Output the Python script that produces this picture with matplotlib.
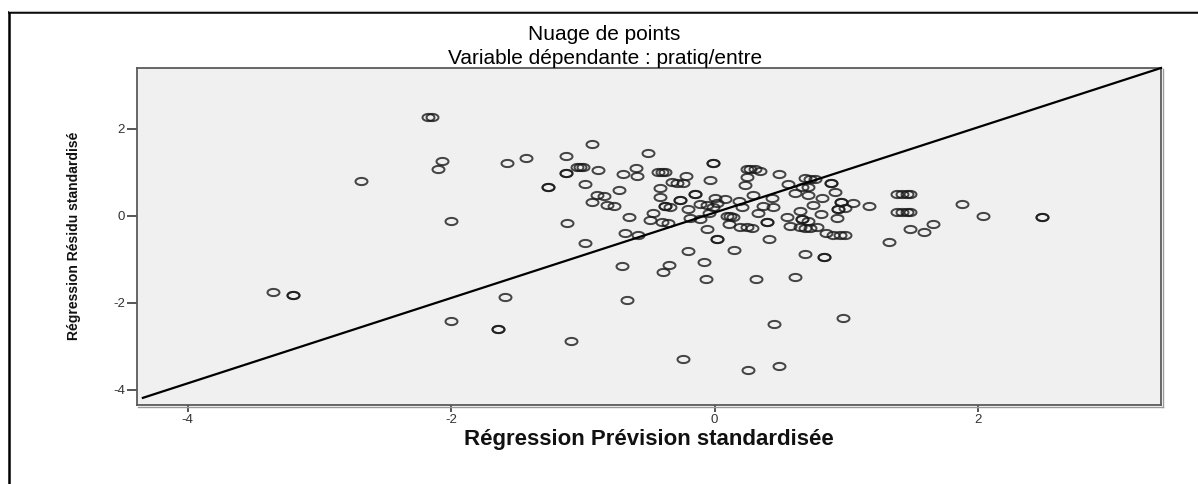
import numpy as np
import matplotlib
matplotlib.use("Agg")
import matplotlib.pyplot as plt
from matplotlib.path import Path
from matplotlib.lines import Line2D

# Standardized predicted values (x) and standardized residuals (y)
pred_std = [
    -2.175, -2.145, -2.067, -2.097, -1.573, -1.431, -2.684, -2.003,
    -3.355, -3.198, -3.198, -2.003, -1.641, -1.641, -1.591,
    -0.986, -0.680, -0.579, -1.090, -0.700, -0.662, -0.345, -0.391, -0.201, -0.077, -0.062, -0.241,
    0.021, 0.021, 0.146, 0.412, 0.315, 0.257, 0.490, 0.450, 0.614, 0.689, 0.834, 0.834, 0.978,
    0.845, 0.900, 0.950, 0.990,
    -1.128, -0.928, -0.503, -1.044, -1.021, -0.996, -1.128, -1.128, -0.885, -1.262, -1.262, -0.983,
    -0.692, -0.596, -0.591, -0.725, -0.894, -0.839, -0.932, -0.819, -0.761, -1.122,
    -0.647, -0.465, -0.490, -0.401, -0.351,
    -0.427, -0.401, -0.376, -0.414, -0.414, -0.325, -0.285, -0.237, -0.216,
    -0.376, -0.376, -0.338, -0.262, -0.262, -0.148, -0.148, -0.199,
    -0.110, -0.059, -0.009, 0.017, 0.004, 0.080, -0.186, -0.110, -0.039,
    0.093, 0.118, 0.143, -0.059, 0.112, 0.194, 0.244, 0.282,
    -0.014, -0.014, -0.034, 0.207, 0.186, 0.295, 0.232, 0.243,
    0.244, 0.270, 0.307, 0.345, 0.492, 0.333, 0.396, 0.396, 0.371, 0.442, 0.439,
    0.548, 0.573, 0.649, 0.687, 0.725, 0.776, 0.649, 0.662, 0.662, 0.712,
    0.750, 0.814, 0.708, 0.611, 0.560, 0.662, 0.712, 0.687, 0.725, 0.763,
    0.885, 0.885, 0.915, 0.958, 0.958, 0.940, 0.940, 0.991, 1.049, 1.175, 0.928, 0.806,
    1.383, 1.421, 1.459, 1.484, 1.383, 1.421, 1.459, 1.484,
    1.484, 1.591, 1.661, 1.325, 1.882, 2.041, 2.484, 2.484,
]
resid_std = [
    2.257, 2.257, 1.253, 1.069, 1.200, 1.315, 0.793, -0.126,
    -1.759, -1.834, -1.834, -2.418, -2.609, -2.609, -1.867,
    -0.625, -0.395, -0.441, -2.878, -1.154, -1.936, -1.138, -1.306, -0.823, -1.076, -1.467, -3.299,
    -0.547, -0.547, -0.800, -0.547, -1.467, -3.545, -3.467, -2.487, -1.421, -0.878, -0.954, -0.954, -2.363,
    -0.400, -0.441, -0.441, -0.441,
    1.361, 1.644, 1.437, 1.122, 1.115, 1.108, 0.970, 0.970, 1.046, 0.662, 0.662, 0.717,
    0.954, 1.099, 0.908, 0.586, 0.471, 0.455, 0.303, 0.241, 0.225, -0.179,
    -0.028, 0.064, -0.103, -0.143, -0.179,
    1.007, 1.007, 1.007, 0.625, 0.432, 0.763, 0.747, 0.740, 0.908,
    0.218, 0.218, 0.202, 0.356, 0.356, 0.494, 0.494, 0.143,
    0.264, 0.241, 0.202, 0.287, 0.409, 0.391, -0.064, -0.087, 0.051,
    -0.011, -0.011, -0.028, -0.317, -0.202, -0.257, -0.271, -0.280,
    1.200, 1.200, 0.816, 0.200, 0.333, 0.471, 0.690, 0.878,
    1.062, 1.062, 1.062, 1.023, 0.947, 0.064, -0.156, -0.156, 0.225, 0.202, 0.395,
    -0.041, -0.241, -0.257, -0.280, -0.280, -0.264, 0.103, -0.087, -0.087, -0.126,
    0.241, 0.409, 0.471, 0.510, 0.717, 0.662, 0.662, 0.855, 0.839, 0.839,
    0.754, 0.754, 0.547, 0.317, 0.317, 0.143, 0.143, 0.166, 0.280, 0.225, -0.046, 0.028,
    0.487, 0.487, 0.487, 0.487, 0.074, 0.074, 0.074, 0.074,
    -0.317, -0.372, -0.202, -0.616, 0.257, -0.011, -0.034, -0.034,
]

# Reference line drawn across the plot
ref_intercept = 0.066
ref_slope = 0.981
ref_x = [-4.34, 3.39]

x_ticks = [-4, -2, 0, 2]
y_ticks = [-4, -2, 0, 2]
x_limits = (-4.387, 3.390)
y_limits = (-4.356, 3.391)

title_main = "Nuage de points"
title_sub = "Variable dépendante : pratiq/entre"
x_label = "Régression Prévision standardisée"
y_label = "Régression Résidu standardisé"

FONT = "Liberation Sans"

W, H = 1198, 484
fig = plt.figure(figsize=(W / 100, H / 100), dpi=100)
fig.patch.set_facecolor("white")

left, right, top, bottom = 136.7, 1161.0, 68.0, 405.0
ax = fig.add_axes([left / W, 1 - bottom / H, (right - left) / W, (bottom - top) / H])
ax.set_facecolor("#f0f0f0")
ax.set_xlim(*x_limits)
ax.set_ylim(*y_limits)

# Open ellipse marker
theta = np.linspace(0, 2 * np.pi, 73)
ellipse = Path(np.column_stack([np.cos(theta), 0.6 * np.sin(theta)]), closed=True)
ax.plot(pred_std, resid_std, linestyle="none", marker=ellipse, markersize=8.6,
        markerfacecolor="none", markeredgecolor="#1a1a1a", markeredgewidth=1.45,
        alpha=0.8, zorder=3)

ref_y = [ref_intercept + ref_slope * v for v in ref_x]
ax.plot(ref_x, ref_y, color="black", linewidth=1.6, zorder=4, clip_on=False)

for s in ax.spines.values():
    s.set_color("#5a5a5a")
    s.set_linewidth(1.3)

ax.set_xticks(x_ticks)
ax.set_yticks(y_ticks)
ax.set_xticklabels([str(t) for t in x_ticks])
ax.set_yticklabels([str(t) for t in y_ticks])
ax.tick_params(axis="x", direction="out", length=5, width=1.4, color="#555555",
               labelsize=9.5, labelcolor="#333333", pad=1.5)
ax.tick_params(axis="y", direction="out", length=7, width=1.4, color="#555555",
               labelsize=9.5, labelcolor="#333333", pad=1.5)
for lab in ax.get_xticklabels() + ax.get_yticklabels():
    lab.set_family(FONT)

# Shadow on right and bottom of plot frame
fig.add_artist(Line2D([(right + 1.8) / W] * 2, [1 - (bottom + 1.8) / H, 1 - (top + 1) / H],
                      color="#9a9a9a", linewidth=1.0))
fig.add_artist(Line2D([(left + 1) / W, (right + 1.8) / W], [1 - (bottom + 1.8) / H] * 2,
                      color="#9a9a9a", linewidth=1.0))

# Titles
fig.text(604 / W, 1 - 34 / H, title_main, ha="center", va="center",
         fontsize=15, family=FONT, color="black")
fig.text(605 / W, 1 - 58.5 / H, title_sub, ha="center", va="center",
         fontsize=15, family=FONT, color="black")

fig.text(649 / W, 1 - 440 / H, x_label, ha="center", va="center",
         fontsize=16, family=FONT, fontweight="bold", color="#111111")

fig.text(74 / W, 1 - 236 / H, y_label, ha="center", va="center", rotation=90,
         fontsize=10, family=FONT, fontweight="bold", color="#111111")

# Outer document frame
fig.add_artist(Line2D([8.5 / W, 8.5 / W], [0, 1 - 12 / H], color="black", linewidth=1.8))
fig.add_artist(Line2D([8.5 / W, 1.0], [1 - 12 / H, 1 - 12 / H], color="black", linewidth=1.8))
fig.add_artist(Line2D([8.5 / W, 1.0], [1 - 10.5 / H, 1 - 10.5 / H], color="#bbbbbb", linewidth=0.8))

fig.savefig("out.png", dpi=100)
